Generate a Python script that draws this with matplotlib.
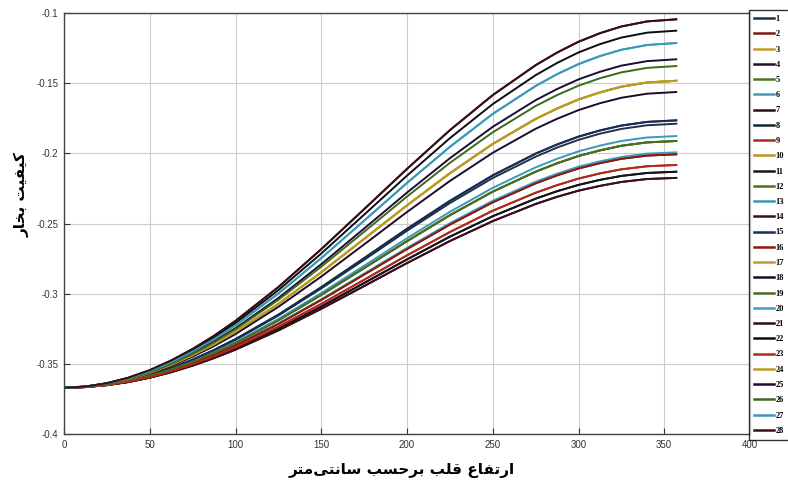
import matplotlib
matplotlib.use("Agg")
import matplotlib.pyplot as plt

# heights along the core (cm)
x_cm = [0, 12.5, 25, 37.5, 50, 62.5, 75, 87.5, 100, 125, 150, 175, 200, 225, 250, 275,
        287.5, 300, 312.5, 325, 340, 357]

# distinct curves (vapour quality)
curves = [
    [-0.367, -0.3662, -0.3638, -0.3599, -0.3545, -0.3476, -0.3394, -0.3300, -0.3194, -0.2953, -0.2683, -0.2398, -0.2111, -0.1835, -0.1585, -0.1372, -0.1282, -0.1205, -0.1144, -0.1096, -0.1060, -0.1045],
    [-0.367, -0.3662, -0.3639, -0.3601, -0.3549, -0.3482, -0.3403, -0.3311, -0.3209, -0.2975, -0.2714, -0.2437, -0.2159, -0.1892, -0.1649, -0.1443, -0.1356, -0.1281, -0.1222, -0.1175, -0.1140, -0.1126],
    [-0.367, -0.3663, -0.3640, -0.3604, -0.3553, -0.3489, -0.3412, -0.3324, -0.3225, -0.2999, -0.2747, -0.2480, -0.2211, -0.1954, -0.1719, -0.1520, -0.1436, -0.1364, -0.1307, -0.1262, -0.1228, -0.1214],
    [-0.367, -0.3663, -0.3642, -0.3607, -0.3559, -0.3497, -0.3424, -0.3340, -0.3246, -0.3031, -0.2790, -0.2536, -0.2280, -0.2035, -0.1811, -0.1621, -0.1542, -0.1473, -0.1419, -0.1375, -0.1343, -0.1330],
    [-0.367, -0.3663, -0.3642, -0.3608, -0.3561, -0.3501, -0.3429, -0.3347, -0.3254, -0.3044, -0.2808, -0.2559, -0.2308, -0.2068, -0.1850, -0.1663, -0.1585, -0.1518, -0.1465, -0.1423, -0.1391, -0.1378],
    [-0.367, -0.3663, -0.3644, -0.3611, -0.3566, -0.3509, -0.3440, -0.3362, -0.3273, -0.3073, -0.2848, -0.2610, -0.2371, -0.2142, -0.1933, -0.1755, -0.1681, -0.1616, -0.1566, -0.1525, -0.1495, -0.1483],
    [-0.367, -0.3664, -0.3645, -0.3613, -0.3570, -0.3515, -0.3449, -0.3373, -0.3288, -0.3094, -0.2878, -0.2649, -0.2418, -0.2197, -0.1996, -0.1825, -0.1754, -0.1692, -0.1643, -0.1604, -0.1575, -0.1563],
    [-0.367, -0.3664, -0.3647, -0.3619, -0.3579, -0.3530, -0.3470, -0.3401, -0.3324, -0.3150, -0.2954, -0.2747, -0.2538, -0.2339, -0.2157, -0.2002, -0.1937, -0.1881, -0.1837, -0.1802, -0.1776, -0.1765],
    [-0.367, -0.3664, -0.3647, -0.3619, -0.3581, -0.3531, -0.3473, -0.3405, -0.3329, -0.3156, -0.2963, -0.2759, -0.2552, -0.2355, -0.2176, -0.2024, -0.1959, -0.1904, -0.1860, -0.1826, -0.1800, -0.1789],
    [-0.367, -0.3665, -0.3648, -0.3622, -0.3585, -0.3538, -0.3482, -0.3417, -0.3345, -0.3180, -0.2996, -0.2801, -0.2605, -0.2417, -0.2246, -0.2100, -0.2039, -0.1986, -0.1945, -0.1912, -0.1887, -0.1877],
    [-0.367, -0.3665, -0.3649, -0.3623, -0.3586, -0.3540, -0.3485, -0.3422, -0.3351, -0.3190, -0.3009, -0.2818, -0.2626, -0.2441, -0.2273, -0.2131, -0.2071, -0.2019, -0.1979, -0.1946, -0.1922, -0.1912],
    [-0.367, -0.3665, -0.3650, -0.3625, -0.3590, -0.3546, -0.3494, -0.3434, -0.3366, -0.3212, -0.3040, -0.2857, -0.2674, -0.2498, -0.2338, -0.2202, -0.2145, -0.2095, -0.2057, -0.2026, -0.2002, -0.1993],
    [-0.367, -0.3665, -0.3650, -0.3625, -0.3591, -0.3547, -0.3495, -0.3435, -0.3368, -0.3216, -0.3045, -0.2864, -0.2682, -0.2508, -0.2349, -0.2214, -0.2157, -0.2108, -0.2070, -0.2039, -0.2016, -0.2007],
    [-0.367, -0.3665, -0.3651, -0.3627, -0.3595, -0.3553, -0.3503, -0.3446, -0.3382, -0.3236, -0.3073, -0.2901, -0.2727, -0.2561, -0.2409, -0.2281, -0.2227, -0.2180, -0.2143, -0.2114, -0.2092, -0.2083],
    [-0.367, -0.3665, -0.3651, -0.3629, -0.3597, -0.3557, -0.3508, -0.3453, -0.3391, -0.3250, -0.3092, -0.2924, -0.2756, -0.2594, -0.2448, -0.2323, -0.2270, -0.2225, -0.2189, -0.2161, -0.2140, -0.2131],
    [-0.367, -0.3666, -0.3652, -0.3630, -0.3599, -0.3560, -0.3513, -0.3459, -0.3399, -0.3262, -0.3108, -0.2946, -0.2782, -0.2625, -0.2483, -0.2361, -0.2310, -0.2266, -0.2232, -0.2204, -0.2183, -0.2175],
]

# which curve each legend entry 1..28 follows (many overlap)
line_curve = [8, 12, 5, 14, 10, 11, 15, 7, 13, 5, 14, 10, 9, 15, 7, 12, 5, 6, 10, 2, 0, 1, 13, 5, 3, 4, 2, 0]
line_labels = [str(i) for i in range(1, 29)]
line_colors = [
    "#1c3446", "#7a1a14", "#c89a28", "#24102c", "#4e7428", "#3a9cc0", "#2c0c10",
    "#102830", "#a82818", "#b89424", "#14141c", "#487420", "#3a98b8", "#3a0e1c",
    "#1a2c58", "#8a1a10", "#c49a30", "#1c0c2c", "#4a6e1e", "#3aa0c8", "#2c0c18",
    "#0c0c14", "#b02a1a", "#b89c20", "#1c0c30", "#3c6a1c", "#3a98b8", "#3a0e18",
]

x_ticks = [0, 50, 100, 150, 200, 250, 300, 350, 400]
y_ticks = [-0.4, -0.35, -0.3, -0.25, -0.2, -0.15, -0.1]
y_tick_labels = ["-0.4", "-0.35", "-0.3", "-0.25", "-0.2", "-0.15", "-0.1"]

# Persian labels, pre-shaped (presentation forms, visual order)
Y_LABEL = "\uFEAD\uFE8E\uFEA8\uFE91 \uFE96\uFBFF\uFED4\uFBFF\uFB90"
X_LABEL = ("\uFEAE\uFE98\uFEE3\uFBFD\uFE98\uFEE7\uFE8E\uFEB3 "
           "\uFE90\uFEB4\uFEA3\uFEAE\uFE91 \uFE90\uFEE0\uFED7 "
           "\uFEC9\uFE8E\uFED4\uFE97\uFEAD\uFE8D")

fig = plt.figure(figsize=(7.88, 4.84), dpi=100)
ax = fig.add_axes([64 / 788, 1 - 434 / 484, 686 / 788, 421 / 484])

handles = []
for i in range(28):
    h, = ax.plot(x_cm, curves[line_curve[i]], color=line_colors[i], lw=1.4,
                 label=line_labels[i], solid_joinstyle="round")
    handles.append(h)

ax.set_xlim(0, 400)
ax.set_ylim(-0.4, -0.1)
ax.set_xticks(x_ticks)
ax.set_yticks(y_ticks)
ax.set_yticklabels(y_tick_labels)
ax.grid(True, color="#cccccc", lw=0.8)
ax.set_axisbelow(True)
ax.tick_params(direction="in", length=4, width=0.8, colors="#333333", labelsize=7, pad=4)
for lbl in ax.get_xticklabels() + ax.get_yticklabels():
    lbl.set_family("Liberation Sans")
for s in ax.spines.values():
    s.set_color("#444444")
    s.set_linewidth(1.0)

leg = fig.legend(handles=handles, loc="upper left", bbox_to_anchor=(749 / 788, 1 - 10 / 484),
                 bbox_transform=fig.transFigure, frameon=True, fancybox=False,
                 borderaxespad=0, borderpad=0.6, labelspacing=0.87, handlelength=2.4,
                 handletextpad=0.2, prop={"family": "Liberation Serif", "weight": "bold", "size": 6})
leg.get_frame().set_edgecolor("black")
leg.get_frame().set_linewidth(1.0)
for ln in leg.get_lines():
    ln.set_linewidth(1.8)

fig.text(22 / 788, 1 - 195 / 484, Y_LABEL, rotation=90, ha="center", va="center",
         fontsize=11, fontweight="bold", family="DejaVu Sans")
fig.text(402 / 788, 1 - 470 / 484, X_LABEL, ha="center", va="center",
         fontsize=11, fontweight="bold", family="DejaVu Sans")

fig.savefig("out.png", dpi=100)
